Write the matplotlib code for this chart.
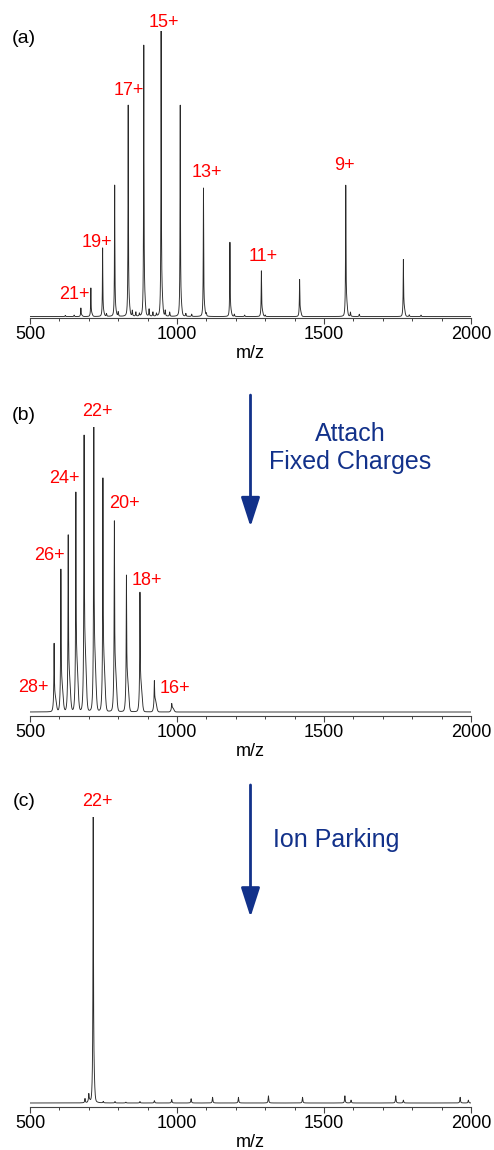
import numpy as np
import matplotlib
matplotlib.use("Agg")
import matplotlib.pyplot as plt
from matplotlib.patches import FancyArrowPatch
from matplotlib.ticker import MultipleLocator

plt.rcParams['font.family'] = ['Liberation Sans', 'DejaVu Sans']

# (a) native protein, main charge state series
a_mz = [673, 707, 747, 788, 834, 887, 946, 1011, 1090, 1180, 1287, 1417, 1574, 1770]
a_int = [3, 10, 24, 46, 74, 95, 100, 74, 45, 26, 16, 13, 46, 20]
a_base = [0.5, 1, 1.5, 2, 4, 6, 7, 4, 3, 2, 2, 2, 5, 3]
# minor peaks / noise floor in (a)
a_minor_mz = [620, 650, 760, 800, 848, 860, 872, 905, 918, 930, 960, 975, 1030, 1050,
              1100, 1195, 1230, 1300, 1590, 1620, 1790, 1830]
a_minor_int = [0.4, 0.5, 1, 1.5, 2, 1.5, 1, 2.5, 1.5, 1, 2, 1.5, 1, 0.8,
               1, 0.8, 0.5, 0.5, 1.5, 0.8, 0.6, 0.5]
a_labels = ['21+', '19+', '17+', '15+', '13+', '11+', '9+']
a_label_mz = [650, 728, 837, 956, 1102, 1293, 1568]
a_label_int = [7.9, 26, 79, 103, 50.6, 21.2, 53]

# (b) after attaching fixed charges
b_mz = [582, 605, 630, 656, 684, 717, 748, 787, 828, 874, 923, 982]
b_int = [24, 50, 62, 77, 97, 100, 82, 67, 48, 42, 11, 3]
b_base = [5, 9, 12, 16, 20, 18, 16, 14, 11, 9, 4, 1.5]
b_labels = ['28+', '26+', '24+', '22+', '20+', '18+', '16+']
b_label_mz = [513, 566, 618, 730, 820, 896, 993]
b_label_int = [8.7, 54.8, 81.8, 105.4, 73.1, 46.2, 8.1]

# (c) after ion parking
c_mz = [700, 715]
c_int = [3, 100]
c_base = [1, 10]
c_minor_mz = [687, 749, 789, 826, 874, 923, 982, 1048, 1121, 1209, 1311, 1427,
              1571, 1592, 1744, 1770, 1963, 1991]
c_minor_int = [1.5, 0.5, 0.5, 0.3, 0.5, 0.8, 1.2, 1.5, 2, 2, 2.5, 2,
               2.5, 1, 2.5, 1, 2, 1]
c_labels = ['22+']
c_label_mz = [728]
c_label_int = [105.3]

panel_tags = ['(a)', '(b)', '(c)']
tag_int = [97.5, 103.9, 105.4]

mz = np.arange(500, 2000.01, 0.1)


def lorentz(x, centers, heights, hwhm):
    y = np.zeros_like(x)
    for c, h in zip(centers, heights):
        y += h / (1.0 + ((x - c) / hwhm) ** 2)
    return y


def hump(x, centers, heights, sigma, shift=2.0):
    y = np.zeros_like(x)
    for c, h in zip(centers, heights):
        y += h * np.exp(-0.5 * ((x - c - shift) / sigma) ** 2)
    return y


def spectrum(x, centers, apex, base, hwhm, sigma, shift):
    # sharp peak on top of a broader foot; apex values are the total heights
    c = np.array(centers, float)
    foot_at_c = hump(c, centers, base, sigma, shift)
    sharp = np.clip(np.array(apex, float) - foot_at_c, 0, None)
    return lorentz(x, centers, sharp, hwhm) + hump(x, centers, base, sigma, shift)


spec_a = (spectrum(mz, a_mz, a_int, a_base, 0.8, 3.0, 2.0)
          + lorentz(mz, a_minor_mz, a_minor_int, 1.0))
spec_b = spectrum(mz, b_mz, b_int, b_base, 0.9, 4.0, 3.0)
spec_c = (spectrum(mz, c_mz, c_int, c_base, 0.9, 3.0, 1.0)
          + lorentz(mz, c_minor_mz, c_minor_int, 1.2))

fig = plt.figure(figsize=(4.94, 11.5), dpi=100)
W, H = 494.0, 1150.0
# axes boxes in pixels: (bottom spine y, top y)
boxes = [(318, 31), (716, 427), (1107, 817)]
ylows = [-0.5, -1.4, -1.4]

spectra = [spec_a, spec_b, spec_c]
labels = [(a_labels, a_label_mz, a_label_int),
          (b_labels, b_label_mz, b_label_int),
          (c_labels, c_label_mz, c_label_int)]

navy = '#12318a'
axes = []
for i in range(3):
    yb, yt = boxes[i]
    ax = fig.add_axes([30 / W, 1 - yb / H, 441 / W, (yb - yt) / H])
    ax.plot(mz, spectra[i], color='#2a2a2a', lw=0.65)
    ax.set_xlim(500, 2000)
    ax.set_ylim(ylows[i], 100)
    for s in ['left', 'top', 'right']:
        ax.spines[s].set_visible(False)
    ax.spines['bottom'].set_linewidth(0.8)
    ax.spines['bottom'].set_color('#444444')
    ax.set_yticks([])
    ax.xaxis.set_major_locator(MultipleLocator(500))
    ax.xaxis.set_minor_locator(MultipleLocator(100))
    ax.tick_params(axis='x', which='major', direction='out', length=4, width=0.8,
                   labelsize=13, pad=2, color='#444444')
    ax.tick_params(axis='x', which='minor', direction='out', length=2, width=0.7,
                   color='#444444')
    ax.set_xlabel('m/z', fontsize=13, labelpad=1)

    txt, xs, ys = labels[i]
    for t, x, y in zip(txt, xs, ys):
        ax.text(x, y, t, color='red', fontsize=13, ha='center', va='center',
                clip_on=False)
    ax.text(480, tag_int[i], panel_tags[i], fontsize=14,
            ha='center', va='center', clip_on=False)
    axes.append(ax)

# process arrows between the panels
for ax in axes[1:]:
    arr = FancyArrowPatch((1250, 111.2), (1250, 65.0),
                          arrowstyle='-|>,head_length=18,head_width=5.8',
                          mutation_scale=1, lw=2.0, color=navy,
                          shrinkA=0, shrinkB=0, clip_on=False)
    ax.add_patch(arr)

axes[1].text(1588, 92.6, 'Attach\nFixed Charges', color=navy, fontsize=18,
             ha='center', va='center', multialignment='center')
axes[2].text(1326, 92.0, 'Ion Parking', color=navy, fontsize=18,
             ha='left', va='center')

fig.savefig('out.png', dpi=100)
